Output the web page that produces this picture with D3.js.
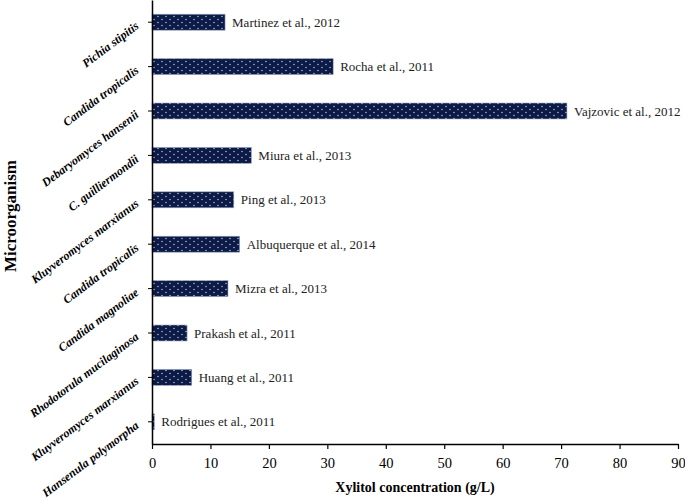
<!DOCTYPE html>
<html>
<head>
<meta charset="utf-8">
<script src="https://cdn.jsdelivr.net/npm/d3@7"></script>
<style>
  body { margin: 0; background: #fff; }
</style>
</head>
<body>
<div id="chart"></div>
<script>
	// microorganisms, top to bottom
	var organisms = ["Pichia stipitis", "Candida tropicalis", "Debaryomyces hansenii", "C. guilliermondii",
		"Kluyveromyces marxianus", "Candida tropicalis", "Candida magnoliae", "Rhodotorula mucilaginosa",
		"Kluyveromyces marxianus", "Hansenula polymorpha"];
	var references = ["Martinez et al., 2012", "Rocha et al., 2011", "Vajzovic et al., 2012", "Miura et al., 2013",
		"Ping et al., 2013", "Albuquerque et al., 2014", "Mizra et al., 2013", "Prakash et al., 2011",
		"Huang et al., 2011", "Rodrigues et al., 2011"];
	var xylitol = [12.5, 31, 71, 17, 14, 15, 13, 6, 6.8, 0.4];
	var xTicks = [0, 10, 20, 30, 40, 50, 60, 70, 80, 90];

	var width = 685,
		height = 500;
	var margin = {top: 0, right: 7, bottom: 56, left: 152};
	var serif = "'Liberation Serif', 'Times New Roman', serif";

	var svg = d3.select("#chart")
		.append("svg")
			.attr("width", width)
			.attr("height", height);

	// dotted fill like the excel bars
	var pat = svg.append("defs").append("pattern")
		.attr("id", "dots")
		.attr("patternUnits", "userSpaceOnUse")
		.attr("width", 8)
		.attr("height", 6);
	pat.append("rect").attr("width", 8).attr("height", 6).attr("fill", "#0b1a47");
	pat.append("circle").attr("cx", 2).attr("cy", 1.5).attr("r", 0.7).attr("fill", "#d0d5e0");
	pat.append("circle").attr("cx", 6).attr("cy", 4.5).attr("r", 0.7).attr("fill", "#d0d5e0");

	var x = d3.scaleLinear()
		.domain([0, 90])
		.range([margin.left, width - margin.right]);

	var y = d3.scaleBand()
		.domain(references)
		.range([margin.top, height - margin.bottom])
		.paddingInner(0.64)
		.paddingOuter(0.32);

	var rows = references.map(function (r, i) { return {ref: r, org: organisms[i], value: xylitol[i]}; });

	// bars
	svg.selectAll("rect.bar")
		.data(rows)
		.enter()
		.append("rect")
			.attr("class", "bar")
			.attr("x", x(0))
			.attr("y", function (d) { return y(d.ref); })
			.attr("width", function (d) { return x(d.value) - x(0); })
			.attr("height", y.bandwidth())
			.attr("fill", "url(#dots)")
			.attr("stroke", "#9aa6c2")
			.attr("stroke-width", 0.6);

	// reference labels next to bars
	svg.selectAll("text.ref")
		.data(rows)
		.enter()
		.append("text")
			.attr("class", "ref")
			.attr("x", function (d) { return x(d.value) + 7; })
			.attr("y", function (d) { return y(d.ref) + y.bandwidth() / 2; })
			.attr("dy", "0.35em")
			.style("font-family", serif)
			.style("font-size", "13px")
			.attr("fill", "#222")
			.text(function (d) { return d.ref; });

	// x axis
	var xAxis = svg.append("g")
		.attr("transform", "translate(0," + (height - margin.bottom) + ")")
		.call(d3.axisBottom(x).tickValues(xTicks).tickSize(5).tickSizeOuter(0));
	xAxis.select(".domain").attr("stroke", "#000").attr("stroke-width", 1.5);
	xAxis.selectAll(".tick line").attr("stroke", "#000").attr("stroke-width", 1.2);
	xAxis.selectAll(".tick text")
		.style("font-family", serif)
		.style("font-size", "14.5px")
		.attr("fill", "#000")
		.attr("dy", "1.1em");

	// y axis, labels slanted
	var byRef = {};
	rows.forEach(function (d) { byRef[d.ref] = d.org; });
	var yAxis = svg.append("g")
		.attr("transform", "translate(" + x(0) + ",0)")
		.call(d3.axisLeft(y).tickSize(4).tickSizeOuter(0).tickFormat(function (r) { return byRef[r]; }));
	yAxis.select(".domain").attr("stroke", "#000").attr("stroke-width", 1.5);
	yAxis.selectAll(".tick line").attr("stroke", "#000");
	yAxis.selectAll(".tick text")
		.style("font-family", serif)
		.style("font-size", "12px")
		.style("font-weight", "bold")
		.style("font-style", "italic")
		.attr("fill", "#000")
		.attr("text-anchor", "end")
		.attr("x", -15)
		.attr("y", 2)
		.attr("dy", "0.35em")
		.attr("transform", "rotate(-37,-15,2)");

	// axis titles
	svg.append("text")
		.attr("x", (x(0) + x(90)) / 2)
		.attr("y", 492)
		.attr("text-anchor", "middle")
		.style("font-family", serif)
		.style("font-size", "14px")
		.style("font-weight", "bold")
		.text("Xylitol concentration (g/L)");

	svg.append("text")
		.attr("transform", "translate(16," + 216 + ") rotate(-90)")
		.attr("text-anchor", "middle")
		.style("font-family", serif)
		.style("font-size", "17px")
		.style("font-weight", "bold")
		.text("Microorganism");
</script>
</body>
</html>
